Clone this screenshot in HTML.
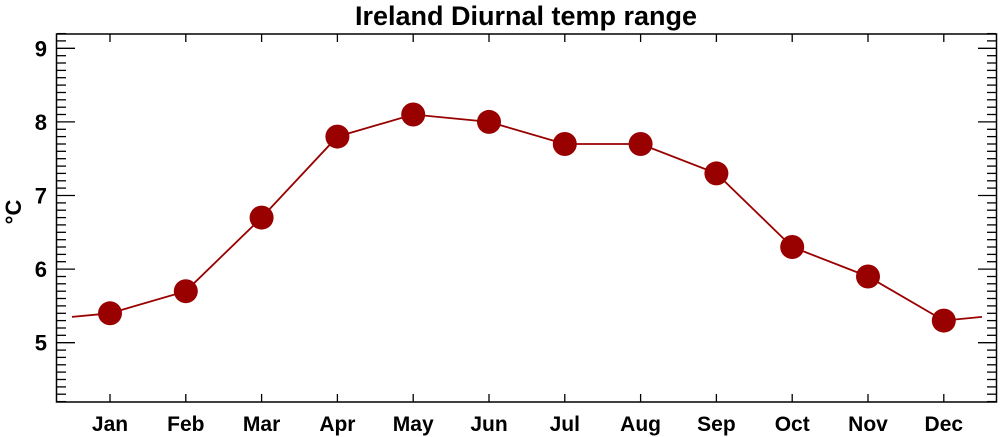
<!DOCTYPE html>
<html><head><meta charset="utf-8"><style>body{margin:0;background:#fff}svg{display:block}text{font-family:"Liberation Sans",Arial,sans-serif;font-weight:bold;fill:#000}</style></head>
<body>
<svg id="s" width="1000" height="437" xmlns="http://www.w3.org/2000/svg">
<text x="526" y="25" font-size="27" text-anchor="middle">Ireland Diurnal temp range</text>
<text transform="translate(21,212) rotate(-90)" font-size="22" text-anchor="middle">°C</text>
<rect x="56.5" y="34" width="940" height="368" fill="none" stroke="#000" stroke-width="1.5"/>
<g id="g"></g>
</svg>
<script>
var g=document.getElementById('g'),h='';
function Y(v){return 342.7-(v-5)*73.6}
function X(i){return 110+75.8*i}
for(var k=42;k<=92;k++){var v=k/10,y=Y(v).toFixed(1),maj=(k%10==0),L=maj?18:9;
h+='<line x1="57" x2="'+(57+L)+'" y1="'+y+'" y2="'+y+'" stroke="#000" stroke-width="1.3"/>';
h+='<line x1="996" x2="'+(996-L)+'" y1="'+y+'" y2="'+y+'" stroke="#000" stroke-width="1.3"/>';
if(maj)h+='<text x="47" y="'+(Y(v)+8)+'" font-size="22" text-anchor="end">'+(k/10)+'</text>';}
var m=['Jan','Feb','Mar','Apr','May','Jun','Jul','Aug','Sep','Oct','Nov','Dec'];
var d=[5.4,5.7,6.7,7.8,8.1,8.0,7.7,7.7,7.3,6.3,5.9,5.3];
for(var i=0;i<12;i++){var x=X(i).toFixed(1);
h+='<line x1="'+x+'" x2="'+x+'" y1="402" y2="394" stroke="#000" stroke-width="1.3"/>';
h+='<line x1="'+x+'" x2="'+x+'" y1="34" y2="42" stroke="#000" stroke-width="1.3"/>';
h+='<text x="'+x+'" y="431" font-size="21" text-anchor="middle">'+m[i]+'</text>';}
var p='72,'+Y(5.35).toFixed(1);
for(var i=0;i<12;i++)p+=' '+X(i).toFixed(1)+','+Y(d[i]).toFixed(1);
p+=' 982,'+Y(5.35).toFixed(1);
h+='<polyline points="'+p+'" fill="none" stroke="#990000" stroke-width="1.8"/>';
for(var i=0;i<12;i++)h+='<circle cx="'+X(i).toFixed(1)+'" cy="'+Y(d[i]).toFixed(1)+'" r="12" fill="#990000"/>';
g.innerHTML=h;
</script>
</body></html>
